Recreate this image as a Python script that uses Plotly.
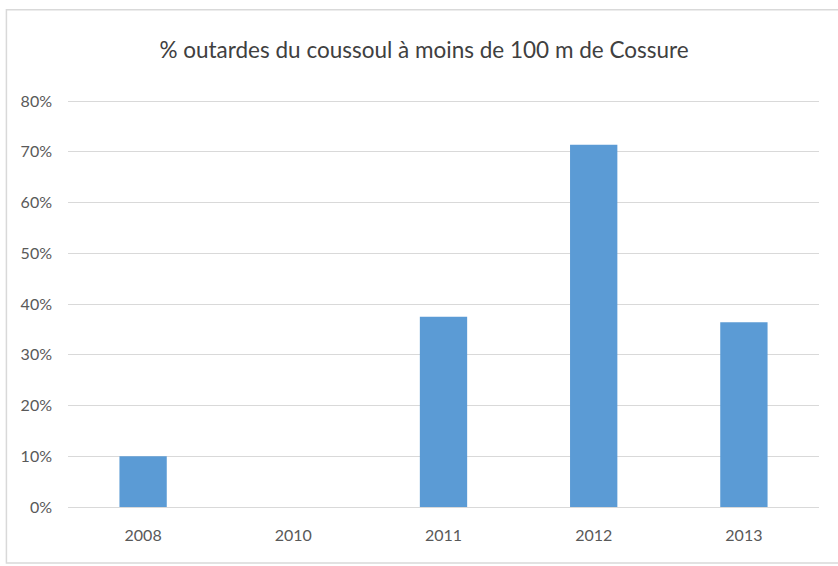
import plotly.graph_objects as go

years = ["2008", "2010", "2011", "2012", "2013"]
pct = [0.10, 0.0, 0.375, 0.714, 0.364]
y_ticks = [0, 0.1, 0.2, 0.3, 0.4, 0.5, 0.6, 0.7, 0.8]
y_tick_labels = ["0%", "10%", "20%", "30%", "40%", "50%", "60%", "70%", "80%"]

font_family = "Lato, Open Sans, sans-serif"
grey = "#595959"

fig = go.Figure(go.Bar(x=years, y=pct, marker=dict(color="#5b9bd5", line=dict(width=0)),
                       width=0.315))

fig.update_layout(
    width=838, height=566,
    margin=dict(l=68, r=19, t=96, b=59),
    paper_bgcolor="white", plot_bgcolor="white",
    showlegend=False,
    title=dict(text="% outardes du coussoul à moins de 100 m de Cossure",
               x=0.506, xanchor="center", y=0.912, yanchor="middle",
               font=dict(family=font_family, size=22.5, color="#404040")),
    font=dict(family=font_family, size=16, color=grey),
)
fig.update_xaxes(type="category", showgrid=False, showline=False, ticks="",
                 tickfont=dict(size=16, color=grey), ticklabelstandoff=17)
fig.update_yaxes(range=[0, 0.81], tickvals=y_ticks, ticktext=y_tick_labels,
                 showgrid=True, gridcolor="#d9d9d9", gridwidth=1,
                 zeroline=True, zerolinecolor="#d9d9d9", zerolinewidth=1,
                 showline=False, ticks="", tickfont=dict(size=16, color=grey),
                 ticklabelstandoff=15)

fig.add_shape(type="rect", xref="paper", yref="paper",
              x0=-0.082, x1=1.03, y0=-0.136, y1=1.21,
              line=dict(color="#d9d9d9", width=1.5), fillcolor="rgba(0,0,0,0)", layer="below")

fig.write_html("out.html", config={"displayModeBar": False},
               post_script="document.body.style.margin='0';document.body.style.overflow='hidden';")
